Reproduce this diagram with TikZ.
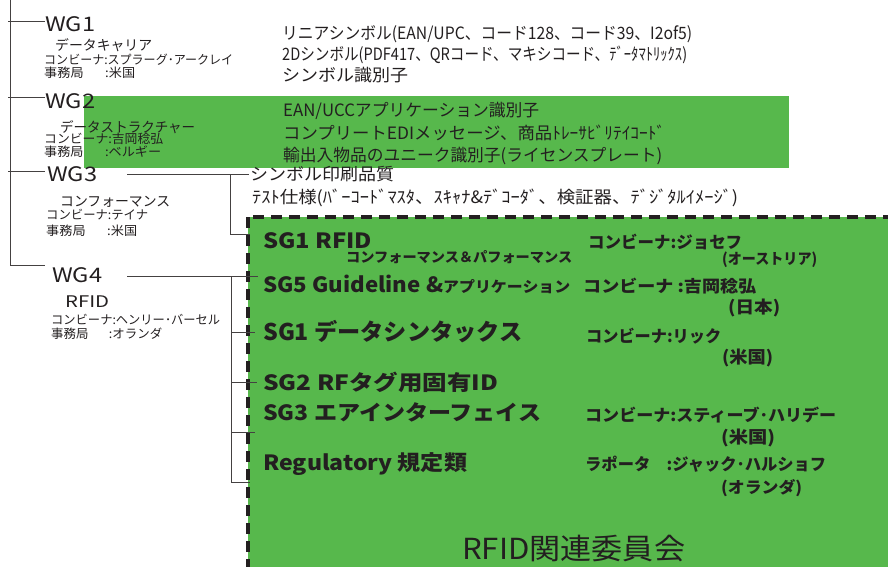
\documentclass[tikz,border=0pt]{standalone}
\usepackage{graphicx}
\usepackage{fontspec}
\setmainfont{Noto Sans CJK JP}
\definecolor{wggreen}{RGB}{87,184,76}
\definecolor{ink}{RGB}{35,31,32}
\newcommand\fsz[1]{\fontsize{#1}{#1}\selectfont}
% x, centre y, font size, name, width, text
\newcommand\lblw[6]{\node[txt,font=\fsz{#3}] (#4) at (#1,{#2+0.38*#3}) {\resizebox{#5pt}{\height}{#6}};}
\begin{document}
\begin{tikzpicture}[x=1pt,y=-1pt,
  txt/.style={anchor=base west,inner sep=0pt,text=ink},
  conn/.style={draw=ink!85,line width=0.9pt},
  rfidframe/.style={fill=wggreen,draw=ink,line width=3.5pt,dash pattern=on 11pt off 7pt}]
\useasboundingbox (0,0) rectangle (888,566);
\clip (0,0) rectangle (888,566);
% green band of WG2
\fill[wggreen] (84,96) rectangle (789,168);
% RFID committee frame
\path[rfidframe] (248,217) rectangle (905,585);

% ---- WG labels
\lblw{45}{24}{20}{wg1}{50}{WG1}
\lblw{55}{45.5}{14}{wg1a}{97}{データキャリア}
\lblw{44}{60}{12.5}{wg1b}{189}{コンビーナ:スプラーグ･アークレイ}
\lblw{44}{72.5}{12.5}{wg1c}{91}{\makebox[58pt][l]{事務局}:米国}

\lblw{45}{101}{20}{wg2}{50}{WG2}
\lblw{60}{127}{14}{wg2a}{135}{データストラクチャー}
\lblw{44}{139}{12.5}{wg2b}{119}{コンビーナ:吉岡稔弘}
\lblw{44}{152}{12.5}{wg2c}{117}{\makebox[58pt][l]{事務局}:ベルギー}

\lblw{47}{173.5}{20}{wg3}{50}{WG3}
\lblw{60}{201}{14}{wg3a}{110}{コンフォーマンス}
\lblw{46}{215}{12.5}{wg3b}{102}{コンビーナ:テイナ}
\lblw{46}{231}{12.5}{wg3c}{91}{\makebox[58pt][l]{事務局}:米国}

\lblw{52}{275}{20}{wg4}{50}{WG4}
\lblw{65}{301}{16}{wg4a}{44}{RFID}
\lblw{51}{320}{12.5}{wg4b}{169}{コンビーナ:ヘンリー･バーセル}
\lblw{51}{334}{12.5}{wg4c}{111}{\makebox[58pt][l]{事務局}:オランダ}

% ---- topic lists
\lblw{282}{33}{17}{t1}{410}{リニアシンボル(EAN/UPC、コード128、コード39、I2of5)}
\lblw{282}{54}{17}{t2}{405}{2Dシンボル(PDF417、QRコード、マキシコード、ﾃﾞｰﾀﾏﾄﾘｯｸｽ)}
\lblw{282}{75}{17}{t3}{126}{シンボル識別子}
\lblw{283}{110}{17}{g1}{256}{EAN/UCCアプリケーション識別子}
\lblw{283}{133}{17}{g2}{382}{コンプリートEDIメッセージ、商品ﾄﾚｰｻﾋﾞﾘﾃｲｺｰﾄﾞ}
\lblw{283}{155}{17}{g3}{379}{輸出入物品のユニーク識別子(ライセンスプレート)}
\lblw{250}{174}{17}{q1}{144}{シンボル印刷品質}
\lblw{252}{197}{17}{q2}{486}{ﾃｽﾄ仕様(ﾊﾞｰｺｰﾄﾞﾏｽﾀ、ｽｷｬﾅ\&ﾃﾞｺｰﾀﾞ、検証器、ﾃﾞｼﾞﾀﾙｲﾒｰｼﾞ)}

% ---- sub groups
\lblw{263}{241}{21}{sg1}{109}{\bfseries SG1 RFID}
\lblw{346}{257}{14}{sg1s}{226}{\bfseries コンフォーマンス＆パフォーマンス}
\lblw{263}{285}{21}{sg5}{307}{\bfseries SG5 Guideline \&{\fsz{15}アプリケーション}}
\lblw{263}{332}{23}{sg1d}{259}{\bfseries SG1 データシンタックス}
\lblw{263}{383}{21}{sg2}{235}{\bfseries SG2 RFタグ用固有ID}
\lblw{263}{413}{21}{sg3}{278}{\bfseries SG3 エアインターフェイス}
\lblw{263}{463}{21}{reg}{204}{\bfseries Regulatory 規定類}

\lblw{588}{242.5}{16.5}{c1}{154}{\bfseries コンビーナ:ジョセフ}
\lblw{722}{258.5}{15}{c1n}{95}{\bfseries (オーストリア)}
\lblw{583}{286}{16.5}{c5}{173}{\bfseries コンビーナ :吉岡稔弘}
\lblw{728}{307}{17}{c5n}{52}{\bfseries (日本)}
\lblw{586}{336}{16.5}{cd}{135}{\bfseries コンビーナ:リック}
\lblw{722}{357}{17}{cdn}{51}{\bfseries (米国)}
\lblw{585}{415}{16.5}{c3}{251}{\bfseries コンビーナ:スティーブ･ハリデー}
\lblw{721}{437}{17}{c3n}{54}{\bfseries (米国)}
\lblw{585}{464}{16.5}{cr}{241}{\bfseries ラポータ　:ジャック･ハルショフ}
\lblw{721}{487}{16}{crn}{81}{\bfseries (オランダ)}

\lblw{462}{548}{29}{title}{223}{RFID関連委員会}

% ---- connectors
\coordinate (t0) at (10,0);
\coordinate (t4) at (10,265);
\coordinate (w4s) at (45,265);
\coordinate (w1s) at (8,21);  \coordinate (w1e) at (45,21);
\coordinate (w2s) at (8,97);  \coordinate (w2e) at (45,97);
\coordinate (w3s) at (8,171); \coordinate (w3e) at (45,171);
\draw[conn] (t0) -- (t4) -- (w4s);
\draw[conn] (w1s) -- (w1e);
\draw[conn] (w2s) -- (w2e);
\draw[conn] (w3s) -- (w3e);

\coordinate (a3) at (127,174); \coordinate (b3) at (230,174); \coordinate (c3) at (249,174);
\coordinate (d3) at (230,234); \coordinate (e3) at (250,234);
\draw[conn] (a3) -- (c3);
\draw[conn] (b3) -- (d3) -- (e3);

\coordinate (a4) at (127,276); \coordinate (b4) at (231,276); \coordinate (c4) at (258,276);
\coordinate (d4) at (231,482); \coordinate (e4) at (250,482);
\coordinate (f4) at (231,332); \coordinate (g4) at (255,332);
\coordinate (h4) at (231,382); \coordinate (i4) at (257,382);
\coordinate (j4) at (231,432); \coordinate (k4) at (255,432);
\draw[conn] (a4) -- (c4);
\draw[conn] (b4) -- (d4) -- (e4);
\draw[conn] (f4) -- (g4);
\draw[conn] (h4) -- (i4);
\draw[conn] (j4) -- (k4);
\end{tikzpicture}
\end{document}
